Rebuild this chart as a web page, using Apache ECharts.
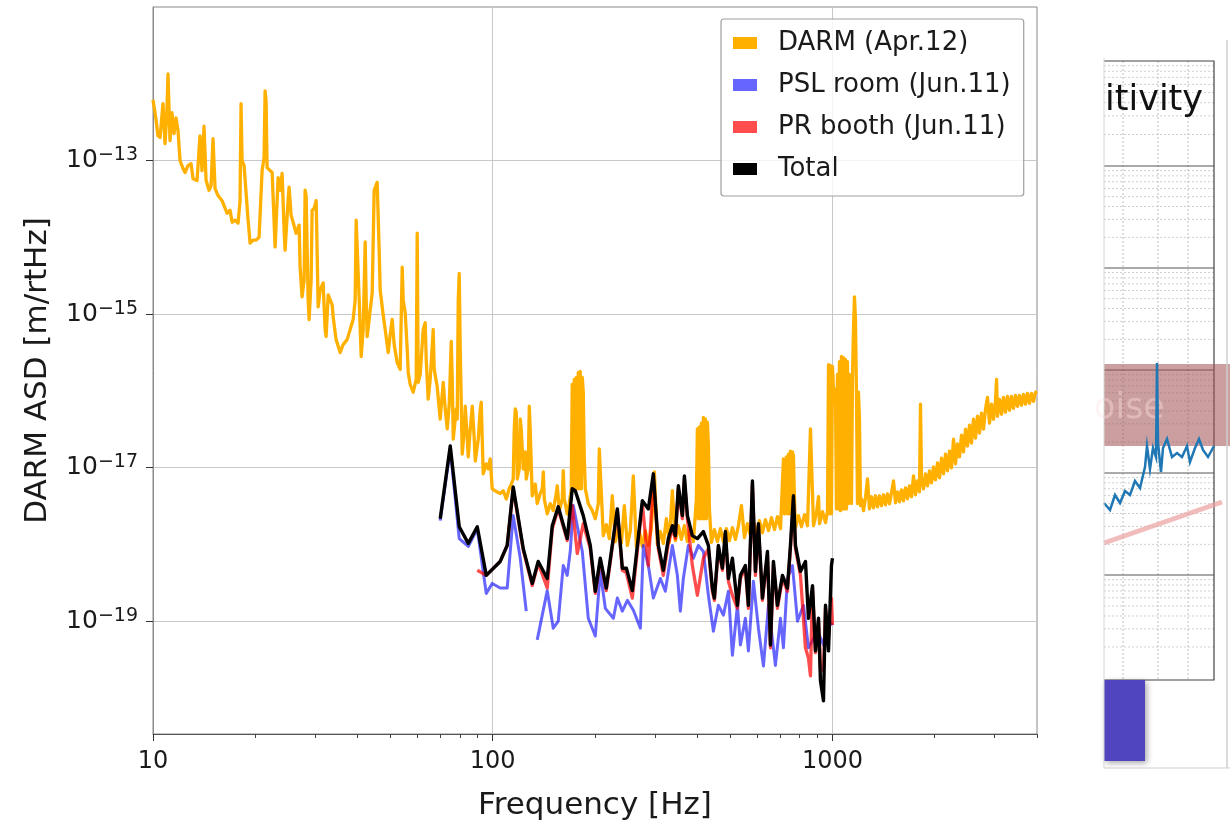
<!DOCTYPE html>
<html>
<head>
<meta charset="utf-8">
<script src="https://cdn.jsdelivr.net/npm/echarts@6/dist/echarts.min.js"></script>
<style>
html,body{margin:0;padding:0;background:#ffffff;}
#chart{width:1230px;height:826px;}
</style>
</head>
<body>
<div id="chart"></div>
<script>
// ---------------- data ----------------
const darmFreq = [
10.0,10.2,10.34,10.49,10.7,10.85,10.99,11.07,11.14,11.22,11.37,11.53,11.69,11.85,12.01,12.25,12.43,12.68,12.94,13.12,
13.48,13.66,13.75,13.94,14.13,14.33,14.62,14.82,15.02,15.23,15.54,15.97,16.52,16.86,17.10,17.44,17.80,18.04,18.16,18.29,
18.54,18.79,19.05,19.31,19.71,20.11,20.52,20.95,21.23,21.38,21.52,21.67,22.11,22.42,22.88,23.35,23.67,23.99,24.32,24.48,
24.98,25.15,25.50,25.85,26.38,26.92,27.10,27.47,27.85,28.04,28.23,28.62,28.81,29.21,29.40,29.81,30.22,30.42,30.63,31.05,
31.68,32.11,32.33,32.78,33.22,33.68,33.91,34.59,35.55,36.27,37.27,38.05,38.83,39.36,39.63,40.17,40.45,41.00,41.56,42.13,
42.42,42.70,43.59,44.18,44.77,45.08,45.69,46.00,46.32,46.63,47.59,48.25,49.24,49.91,50.58,51.27,52.33,53.41,54.14,54.52,
55.26,56.02,56.39,57.15,58.33,59.53,59.94,60.34,61.17,62.42,63.28,63.71,64.57,65.46,66.80,67.26,68.63,70.05,71.01,71.50,
72.48,73.47,74.48,75.49,76.00,76.52,78.08,78.61,79.15,79.69,80.23,81.33,82.45,83.01,84.14,84.72,85.88,87.05,88.24,88.84,
90.67,91.89,92.51,93.14,93.76,95.70,96.98,98.31,99.65,101.0,103.1,105.2,107.4,109.6,111.8,113.4,114.9,115.7,116.5,117.3,
118.1,119.7,120.5,121.3,123.0,124.6,125.5,127.2,128.1,128.9,130.7,133.4,135.2,138.0,139.9,140.9,141.8,144.7,147.7,150.7,
153.8,154.9,157.0,160.2,161.3,162.4,165.7,168.0,170.3,171.4,172.6,173.8,175.0,176.2,177.4,178.6,179.8,181.0,182.3,183.5,
184.7,186.0,187.3,191.1,196.4,200.4,204.5,205.9,
207.3,211.6,216.0,220.4,224.9,229.5,234.3,239.1,244.0,249.0,254.1,259.3,264.7,270.1,275.7,281.3,287.1,293.0,299.1,305.2,
311.4,317.8,324.4,331.0,337.8,344.8,351.9,359.1,366.5,374.0,381.7,389.6,397.6,400.3,403.0,405.8,408.6,411.4,414.2,416.9,
419.8,422.6,425.5,428.4,431.3,434.3,440.2,449.3,458.5,467.9,477.5,487.4,497.4,507.6,518.1,528.7,539.6,550.7,562.0,573.6,
585.4,597.4,609.7,622.2,635.0,648.1,661.4,675.0,688.9,703.1,717.3,722.1,732.0,737.0,742.1,747.2,752.2,757.3,762.5,767.7,
772.9,778.4,794.4,810.4,827.4,844.4,861.5,879.5,897.6,909.8,916.0,934.9,954.1,967.1,
973.5,980.0,986.5,993.2,1000,1006.8,1013.6,1020.5,1027.4,1034.4,1041.5,1048.6,1055.7,1062.9,1070.1,1077.4,1084.7,1092.1,1099.5,1107.0,
1114.5,1122.1,1129.7,1137.4,1145.2,1153.0,1160.8,1168.7,1176.6,1184.6,1192.7,1200.9,1209.0,
1217.4,1234.1,1251.0,1268.1,1285.4,1303.0,1320.8,1338.8,1357.1,1375.6,1394.4,1413.4,1432.7,1452.1,1472.0,1492.1,1512.5,1533.1,1554.0,1575.2,
1596.7,1618.5,1640.6,1663.0,1685.7,1708.7,1732.0,1755.7,1779.6,1803.9,1816,1828.5,1853.5,1878.8,1904.4,1930.4,1956.8,1983.5,2010.5,2038.0,
2065.8,2094.0,2122.6,2151.5,2180.9,2210.7,2240.9,2271.4,2302.4,2333.9,2365.7,2398.0,2430.7,2463.9,2497.5,2531.6,2566.1,2601.2,2636.6,2672.6,
2709.1,2746.0,2783.5,2821.5,2860.0,2899.0,2938.6,2978.7,3019.3,3041,3060.5,3102.3,3146.2,3187.5,3231.0,3275.1,3319.8,3365.1,3411.0,3457.6,
3504.8,3552.6,3601.1,3650.2,3700.0,3750.5,3801.7,3853.6,3906.2,3959.5,4000
];
const darmASD = [
6.2e-13,3.5e-13,2.1e-13,2.0e-13,5.5e-13,1.66e-13,4.4e-13,1.34e-12,1.34e-12,1.82e-13,4.2e-13,2.24e-13,3.6e-13,2.45e-13,1.0e-13,7.9e-14,7.0e-14,8.6e-14,9.1e-14,5.8e-14,
5.5e-14,5.5e-14,2.1e-13,7.4e-14,2.8e-13,5.5e-14,4.1e-14,4.7e-14,1.93e-13,4.3e-14,3.5e-14,3.0e-14,2.06e-14,2.25e-14,1.57e-14,1.67e-14,1.53e-14,3.0e-14,5.5e-13,1.0e-13,
8.6e-14,8.1e-14,1.67e-14,8.4e-15,9.2e-15,9.2e-15,1.0e-14,7.4e-14,1.09e-13,8.1e-13,6.0e-13,8.1e-14,7.4e-14,7.0e-14,7.5e-15,6.0e-14,4.1e-14,6.8e-14,1.24e-14,6.8e-15,
3.0e-14,4.5e-14,1.94e-14,1.57e-14,1.13e-14,1.44e-14,4.1e-15,1.68e-15,2.8e-15,4.1e-14,3.5e-14,1.53e-15,8.5e-16,2.8e-15,2.25e-14,2.4e-14,3.0e-14,3.0e-14,1.24e-15,2.07e-15,
2.55e-15,6.3e-16,5.1e-16,1.78e-15,1.89e-15,1.32e-15,9.2e-16,4.65e-16,3.15e-16,4.0e-16,4.65e-16,6.3e-16,8.5e-16,1.53e-15,1.67e-14,1.67e-14,1.53e-15,2.8e-16,6.3e-16,8.7e-15,
1.53e-15,5.1e-16,1.14e-15,1.89e-15,4.1e-14,4.1e-14,5.2e-14,5.2e-14,6.8e-15,2.07e-15,9.8e-16,6.3e-16,3.15e-16,5.4e-16,8.5e-16,4.0e-16,2.34e-16,1.9e-16,4.1e-15,1.53e-15,
1.04e-15,3.45e-16,1.74e-16,1.21e-16,9.6e-17,1.41e-16,1.13e-14,1.29e-16,1.64e-16,6.3e-16,7.7e-16,2.56e-16,7.8e-17,1.41e-16,6.3e-16,1.9e-16,1.14e-16,4.3e-17,9.0e-17,1.29e-16,
5.8e-17,3.2e-17,6.7e-17,4.4e-16,1.41e-16,2.35e-17,5.8e-17,4.3e-17,1.53e-15,3.4e-15,3.45e-16,1.5e-17,3.2e-17,6.3e-17,2.35e-17,1.38e-17,3.2e-17,6.3e-17,2.35e-17,1.22e-17,
2.35e-17,5.8e-17,7.1e-17,2.35e-17,8.3e-18,1.12e-17,9.6e-18,1.3e-17,5.3e-18,5.6e-18,4.8e-18,4.6e-18,5.0e-18,3.9e-18,5.3e-18,6.1e-18,7.1e-18,3.2e-17,5.8e-17,5.3e-17,
7.1e-18,9.6e-18,4.3e-17,3.2e-17,9.6e-18,1.6e-17,7.1e-18,9.6e-18,6.3e-17,3.2e-17,4.3e-18,6.1e-18,3.4e-18,4.6e-18,5.3e-18,8.8e-18,3.9e-18,2.5e-18,3.4e-18,2.75e-18,
4.6e-18,5.8e-18,2.75e-18,3.9e-18,9.1e-18,3.9e-18,2.5e-18,3.4e-18,5.3e-18,1.21e-16,5.3e-18,1.41e-16,5.3e-18,1.5e-16,5.3e-18,1.74e-16,5.3e-18,1.79e-16,5.3e-18,1.5e-16,
9.6e-17,1.3e-17,5.3e-18,3.4e-18,2.75e-18,2.16e-18,3.4e-18,1.75e-17,
1.85e-17,1.3e-18,1.81e-18,1.19e-18,4.3e-18,1.09e-18,1.6e-18,1.03e-18,3.2e-18,9.7e-19,1.51e-18,7.8e-18,9.4e-19,1.47e-18,9.4e-19,1.51e-18,9.7e-19,1.6e-18,8.8e-18,1.0e-18,
1.47e-18,1.03e-18,2.16e-18,1.06e-18,5.0e-18,1.12e-18,1.75e-18,1.16e-18,1.75e-18,1.09e-18,1.6e-18,1.09e-18,3.9e-18,3.2e-17,2.16e-18,3.4e-17,2.16e-18,3.8e-17,2.16e-18,4.5e-17,
2.16e-18,4.3e-17,2.16e-18,3.9e-17,2.0e-17,2.9e-18,1.06e-18,1.56e-18,1.09e-18,1.6e-18,1.09e-18,1.6e-18,1.12e-18,1.65e-18,1.16e-18,1.75e-18,3.2e-18,1.23e-18,1.86e-18,1.3e-18,
1.98e-18,1.34e-18,2.04e-18,1.42e-18,2.1e-18,1.51e-18,2.23e-18,1.56e-18,2.3e-18,1.6e-18,1.3e-17,2.5e-18,1.38e-17,2.5e-18,1.5e-17,2.5e-18,1.64e-17,2.5e-18,1.6e-17,1.42e-17,
3.9e-18,1.65e-18,2.37e-18,1.7e-18,2.44e-18,1.75e-18,3.2e-17,1.75e-18,2.59e-18,4.2e-18,1.86e-18,2.67e-18,1.92e-18,2.75e-18,
2.2e-16,2.5e-18,2.14e-16,2.5e-18,2.08e-16,1.05e-16,7.1e-17,1.05e-16,2.9e-18,1.64e-16,2.9e-18,2.4e-16,2.75e-18,2.8e-16,2.9e-18,2.7e-16,2.9e-18,2.56e-16,2.9e-18,2.4e-16,
3.4e-18,1.64e-16,1.05e-16,3.4e-18,1.41e-16,6.3e-16,1.68e-15,8.5e-16,9.6e-17,3.4e-18,9.6e-17,4.3e-17,3.2e-18,
3.93e-18,2.75e-18,4.05e-18,7.13e-18,2.91e-18,4.17e-18,3.0e-18,4.3e-18,3.09e-18,4.3e-18,3.19e-18,4.43e-18,3.28e-18,4.56e-18,3.38e-18,4.7e-18,6.72e-18,3.49e-18,4.84e-18,3.59e-18,
5.14e-18,3.7e-18,5.45e-18,3.93e-18,5.79e-18,4.17e-18,7.8e-18,4.43e-18,6.72e-18,4.84e-18,6.69e-17,7.35e-18,5.29e-18,8.28e-18,5.79e-18,9.06e-18,6.33e-18,1.02e-17,6.92e-18,1.15e-17,
7.35e-18,1.33e-17,8.28e-18,1.5e-17,9.06e-18,1.64e-17,9.9e-18,2.35e-17,1.12e-17,2.03e-17,1.38e-17,2.65e-17,1.6e-17,3.17e-17,1.91e-17,3.57e-17,2.09e-17,4.27e-17,2.42e-17,4.67e-17,
2.81e-17,5.11e-17,3.17e-17,5.76e-17,8.24e-17,3.79e-17,6.69e-17,4.27e-17,7.31e-17,1.41e-16,4.67e-17,7.76e-17,4.96e-17,8.24e-17,5.27e-17,8.49e-17,5.59e-17,8.49e-17,5.93e-17,8.74e-17,
6.3e-17,8.74e-17,6.49e-17,9.01e-17,6.69e-17,9.28e-17,6.89e-17,9.28e-17,7.31e-17,9.56e-17,9.85e-17
];

// PSL room (null = no data / gap)
const pslFreq = [
70.05,74.98,79.69,84.72,90.05,95.70,99.65,105.2,110.3,114.9,120.5,125.5,130.0,
135.2,144.7,150.7,155.9,161.3,165.7,169.2,172.6,183.5,191.1,200.4,207.3,214.5,226.5,232.7,240.7,249.1,
259.4,272.0,277.6,287.1,297.0,311.5,322.2,337.9,349.5,356.7,364.0,376.6,389.6,403.0,416.9,431.3,446.2,461.5,477.5,494.0,
507.5,525.1,535.8,554.3,565.7,585.3,605.4,626.4,647.9,679.4,702.9,717.3,737.0,762.5,788.9,821.6,849.9,903.6,940.9,967.1,1000
];
const pslASD = [
2.04e-18,1.75e-17,1.19e-18,9.4e-19,1.6e-18,2.3e-19,3.1e-19,2.7e-19,2.7e-19,2.37e-18,6.6e-19,1.35e-19,null,
5.7e-20,2.5e-19,8.1e-20,1.0e-19,5.3e-19,3.95e-19,8.3e-19,3.2e-18,8.1e-19,1.09e-19,6.4e-20,4.45e-19,1.47e-19,1.09e-19,2.0e-19,1.35e-19,1.87e-19,
1.39e-19,8.1e-20,9.7e-19,5.3e-19,2.0e-19,3.6e-19,2.45e-19,9.7e-19,3.95e-19,1.35e-19,3.6e-19,9.7e-19,6.6e-19,9.7e-19,8.1e-19,2.17e-19,7.4e-20,1.61e-19,1.2e-19,2.45e-19,
3.6e-20,1.61e-19,4.9e-20,1.09e-19,4.1e-20,3.3e-19,8.1e-20,2.6e-20,1.61e-19,2.65e-20,1.09e-19,4.5e-20,3.6e-19,5.3e-19,1.0e-19,1.61e-19,4.5e-20,7.4e-20,4.9e-20,1.09e-19,8.9e-20
];

// PR booth
const prFreq = [
90.05,95.70,105.2,110.3,114.9,123.0,130.7,136.1,144.7,149.7,155.9,165.7,171.4,177.4,184.7,193.7,200.4,207.3,215.9,232.7,
240.7,247.4,257.6,275.7,287.1,297.0,307.2,317.8,328.8,337.9,344.8,351.9,361.6,366.6,374.1,386.9,400.3,416.9,431.3,443.1,
449.2,461.5,474.3,484.0,494.0,507.5,525.1,535.8,554.3,565.7,581.3,593.3,605.4,622.1,643.6,656.9,670.3,688.7,712.5,737.0,
752.2,767.7,778.2,805.0,832.8,849.9,861.5,873.4,891.3,909.8,921.9,940.9,954.0,973.5,993.2,1000
];
const prASD = [
4.6e-19,3.95e-19,6.0e-19,9.7e-19,5.3e-18,8.4e-19,2.9e-19,5.7e-19,2.7e-19,1.6e-18,2.9e-18,1.12e-18,3.2e-18,7.6e-19,1.86e-18,8.8e-19,2.3e-19,6.3e-19,2.5e-19,2.75e-18,
4.6e-19,4.3e-19,2.0e-19,3.4e-18,5.3e-19,7.1e-18,8.8e-19,3.95e-19,1.03e-18,1.6e-18,1.19e-18,5.3e-18,2.16e-18,7.1e-18,2.16e-18,5.3e-19,2.17e-19,6.6e-19,8.8e-19,2.45e-19,
1.87e-19,8.8e-19,4.6e-19,1.34e-18,3.3e-19,2.17e-19,1.47e-19,3.6e-19,4.9e-19,1.47e-19,6.1e-18,3.95e-19,1.7e-18,1.87e-19,7.2e-19,4.5e-20,5.3e-19,1.47e-19,3.6e-19,2.45e-19,
8.8e-19,3.9e-18,8.8e-19,3.95e-19,4.5e-20,3.3e-20,1.94e-20,2.7e-19,3.9e-20,1.03e-19,2.4e-20,2.25e-20,1.47e-19,6.0e-20,2.0e-19,8.9e-20
];

// Total
const totalFreq = [
70.05,74.98,79.69,84.72,90.05,95.70,105.2,110.3,114.9,123.0,130.7,136.1,144.7,149.7,155.9,165.7,171.4,175.0,184.7,193.7,
200.4,207.3,215.9,232.7,240.7,247.4,257.6,275.7,287.1,297.0,307.2,317.8,328.8,337.9,344.8,351.9,361.6,366.6,374.1,386.9,
400.3,416.9,431.3,443.1,449.2,461.5,474.3,484.0,494.0,507.5,525.1,535.8,554.3,565.7,581.3,593.3,605.4,622.1,643.6,656.9,
670.3,688.7,712.5,737.0,752.2,767.7,778.2,805.0,832.8,849.9,873.4,891.3,909.8,921.9,940.9,954.0,973.5,993.2,1000
];
const totalASD = [
2.16e-18,1.91e-17,1.7e-18,1.03e-18,1.7e-18,3.95e-19,6.0e-19,9.7e-19,5.6e-18,8.8e-19,3.1e-19,6.0e-19,3.6e-19,1.75e-18,3.1e-18,1.19e-18,5.3e-18,5.0e-18,2.37e-18,9.7e-19,
2.45e-19,6.6e-19,2.7e-19,2.9e-18,4.9e-19,4.9e-19,2.5e-19,3.7e-18,2.9e-18,8.3e-18,9.7e-19,4.6e-19,1.19e-18,1.75e-18,1.3e-18,5.8e-18,2.37e-18,7.8e-18,2.37e-18,1.3e-18,
1.19e-18,1.47e-18,9.7e-19,2.7e-19,2.0e-19,9.7e-19,4.9e-19,1.47e-18,3.6e-19,6.6e-19,1.61e-19,3.95e-19,5.3e-19,1.61e-19,6.7e-18,4.45e-19,1.86e-18,2.0e-19,8.1e-19,4.9e-20,
6.0e-19,1.61e-19,3.95e-19,2.7e-19,9.7e-19,4.3e-18,9.7e-19,4.45e-19,6.0e-19,1.09e-19,2.9e-19,4.1e-20,1.09e-19,1.67e-20,9.2e-21,1.61e-19,4.1e-20,5.3e-19,6.6e-19
];

const seriesNames = ['DARM (Apr.12)', 'PSL room (Jun.11)', 'PR booth (Jun.11)', 'Total'];
const xMajorTicks = [10, 100, 1000];
const xMinorTicks = [20,30,40,50,60,70,80,90,200,300,400,500,600,700,800,900,2000,3000,4000];
const yTicks = [1e-19, 1e-17, 1e-15, 1e-13];

// ---------------- chart ----------------
const FONT = 'DejaVu Sans';
function pairs(fs, vs) { return fs.map((f, i) => [f, vs[i] == null ? '-' : vs[i]]); }

// decoration: cropped fragment of another figure on the right edge
const fragMajors = [61, 166, 268, 370, 473, 575, 678];
const fragGraphics = [];
fragGraphics.push({type:'rect', shape:{x:1104, y:58, width:126, height:710}, style:{fill:'#ffffff'}, z:0});
for (let i = 0; i < fragMajors.length - 1; i++) {
  const top = fragMajors[i], bot = fragMajors[i + 1], h = bot - top;
  for (let k = 2; k <= 9; k++) {
    const yy = bot - Math.log10(k) * h;
    fragGraphics.push({type:'line', shape:{x1:1104, y1:yy, x2:1214, y2:yy},
      style:{stroke:'#c4c4c4', lineWidth:0.8, lineDash:[2,2]}, z:1});
  }
}
[1123, 1158, 1188].forEach(xx => fragGraphics.push({type:'line', shape:{x1:xx, y1:61, x2:xx, y2:680},
  style:{stroke:'#b0b0b0', lineWidth:0.8, lineDash:[2,2]}, z:1}));
fragMajors.slice(1, -1).forEach(yy => fragGraphics.push({type:'line', shape:{x1:1104, y1:yy, x2:1214, y2:yy},
  style:{stroke:'#555555', lineWidth:1}, z:1}));
fragGraphics.push({type:'polyline', shape:{points:[[1104,61],[1214,61],[1214,680],[1104,680]]},
  style:{stroke:'#444444', lineWidth:1.2, fill:null}, z:2});
fragGraphics.push({type:'text', x:1105, y:101, style:{text:'itivity', font:'35px "DejaVu Sans"', fill:'#111111', textVerticalAlign:'middle'}, z:3});
fragGraphics.push({type:'rect', shape:{x:1104, y:364, width:126, height:82}, style:{fill:'rgba(160,80,80,0.55)'}, z:3});
fragGraphics.push({type:'text', x:1094, y:409, style:{text:'oise', font:'35px "DejaVu Sans"', fill:'rgba(255,225,225,0.4)', textVerticalAlign:'middle'}, z:4});
fragGraphics.push({type:'polyline', shape:{points:[[1104,503],[1110,510],[1115,495],[1120,503],[1125,491],[1130,495],[1135,481],[1140,488],[1145,467],[1147,446],[1150,469],[1153,448],[1156,457],[1157,363],[1158,443],[1161,472],[1163,448],[1167,439],[1172,457],[1177,453],[1182,457],[1187,446],[1190,462],[1195,448],[1199,439],[1203,450],[1208,457],[1214,446]]},
  style:{stroke:'#1f77b4', lineWidth:2.5, fill:null}, z:5});
fragGraphics.push({type:'line', shape:{x1:1104, y1:543, x2:1222, y2:502}, style:{stroke:'rgba(235,160,160,0.7)', lineWidth:5}, z:5});
fragGraphics.push({type:'rect', shape:{x:1104, y:680, width:41, height:81},
  style:{fill:'#5045be', shadowBlur:6, shadowColor:'rgba(0,0,0,0.35)', shadowOffsetX:2, shadowOffsetY:2}, z:5});
fragGraphics.push({type:'line', shape:{x1:1104, y1:58, x2:1104, y2:768}, style:{stroke:'#d6d6d6', lineWidth:1}, z:6});
fragGraphics.push({type:'line', shape:{x1:1104, y1:768, x2:1230, y2:768}, style:{stroke:'#cfcfcf', lineWidth:1}, z:6});
fragGraphics.push({type:'line', shape:{x1:1227, y1:40, x2:1227, y2:768}, style:{stroke:'#cfcfcf', lineWidth:1.5}, z:6});

const chart = echarts.init(document.getElementById('chart'), null, {renderer: 'canvas'});
chart.setOption({
  animation: false,
  backgroundColor: '#ffffff',
  textStyle: {fontFamily: FONT},
  grid: {left: 153, right: 193, top: 7, bottom: 89, show: true, borderColor: '#8a8a8a', borderWidth: 1, containLabel: false},
  legend: {
    orient: 'vertical', left: 721, top: 19,
    data: seriesNames,
    icon: 'rect', itemWidth: 24, itemHeight: 12, itemGap: 12,
    padding: [9, 13, 12, 12],
    backgroundColor: 'rgba(255,255,255,0.8)',
    borderColor: '#a0a0a0', borderWidth: 1.2, borderRadius: 3,
    textStyle: {fontFamily: FONT, fontSize: 26, color: '#1a1a1a', lineHeight: 30, padding: [0, 0, 0, 16]},
    selectedMode: false
  },
  xAxis: [{
    type: 'log', min: 10, max: 4000, logBase: 10,
    name: 'Frequency [Hz]', nameLocation: 'middle', nameGap: 56,
    nameTextStyle: {fontFamily: FONT, fontSize: 31, color: '#1a1a1a'},
    axisLine: {show: true, lineStyle: {color: '#555555', width: 1}},
    axisTick: {show: true, customValues: xMajorTicks, length: 7, lineStyle: {color: '#333333', width: 1}},
    axisLabel: {show: true, customValues: xMajorTicks, margin: 16, fontFamily: FONT, fontSize: 24, color: '#1a1a1a',
      formatter: v => String(Math.round(v))},
    splitLine: {show: true, lineStyle: {color: '#c8c8c8', width: 1}}
  }, {
    type: 'log', min: 10, max: 4000, logBase: 10, position: 'bottom', gridIndex: 0,
    axisLine: {show: false},
    axisTick: {show: true, customValues: xMinorTicks, length: 4, lineStyle: {color: '#444444', width: 1}},
    axisLabel: {show: false},
    splitLine: {show: false}
  }],
  yAxis: {
    type: 'log', min: 3.39e-21, max: 1e-11, logBase: 10,
    name: 'DARM ASD [m/rtHz]', nameLocation: 'middle', nameGap: 100, nameRotate: 90,
    nameTextStyle: {fontFamily: FONT, fontSize: 31, color: '#1a1a1a'},
    axisLine: {show: true, lineStyle: {color: '#8a8a8a', width: 1}},
    axisTick: {show: true, customValues: yTicks, length: 7, lineStyle: {color: '#333333', width: 1}},
    axisLabel: {show: true, customValues: yTicks, margin: 15, fontFamily: FONT, color: '#1a1a1a',
      formatter: v => '{b|10}{s|\u2212' + Math.abs(Math.round(Math.log10(v))) + '}',
      rich: {
        b: {fontFamily: FONT, fontSize: 25, color: '#1a1a1a', lineHeight: 30},
        s: {fontFamily: FONT, fontSize: 19, color: '#1a1a1a', lineHeight: 16, verticalAlign: 'top'}
      }
    },
    splitLine: {show: true, lineStyle: {color: '#c8c8c8', width: 1}}
  },
  series: [
    {name: seriesNames[0], type: 'line', data: pairs(darmFreq, darmASD), showSymbol: false, symbol: 'none',
      color: '#ffb000', lineStyle: {color: '#ffb000', width: 3.3, join: 'round'}, z: 2},
    {name: seriesNames[1], type: 'line', data: pairs(pslFreq, pslASD), showSymbol: false, symbol: 'none', connectNulls: false,
      color: 'rgba(0,0,255,0.6)', lineStyle: {color: 'rgba(0,0,255,0.6)', width: 3, join: 'round'}, z: 3},
    {name: seriesNames[2], type: 'line', data: pairs(prFreq, prASD), showSymbol: false, symbol: 'none',
      color: 'rgba(255,0,0,0.7)', lineStyle: {color: 'rgba(255,0,0,0.7)', width: 3.3, join: 'round'}, z: 4},
    {name: seriesNames[3], type: 'line', data: pairs(totalFreq, totalASD), showSymbol: false, symbol: 'none',
      color: '#000000', lineStyle: {color: '#000000', width: 3.4, join: 'round'}, z: 5}
  ],
  graphic: fragGraphics
});
</script>
</body>
</html>
